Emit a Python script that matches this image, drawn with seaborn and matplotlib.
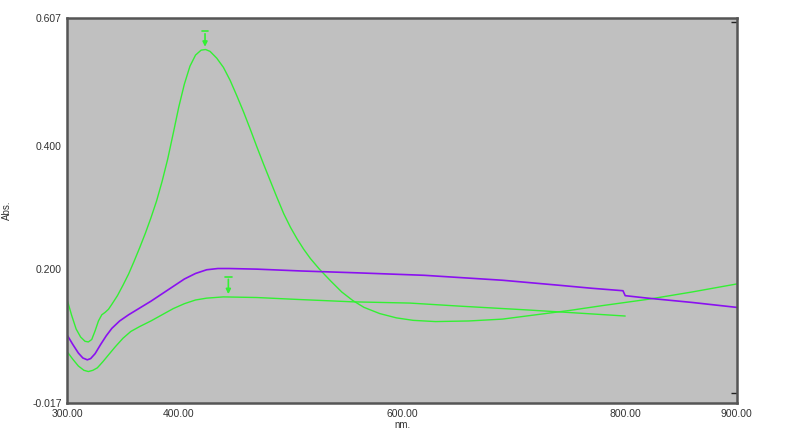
import numpy as np
import pandas as pd
import matplotlib
matplotlib.use("Agg")
import matplotlib.pyplot as plt
import seaborn as sns

# spectrum 1 (green, big band ~424 nm)
wl_a = [300, 304, 308, 312, 316, 319, 322, 325, 328, 331, 334, 337, 340, 345, 350, 355,
        360, 365, 370, 375, 380, 385, 390, 395, 400, 405, 410, 415, 420, 424, 428, 434,
        440, 446, 452, 458, 464, 470, 476, 482, 488, 494, 500, 506, 512, 518, 526, 536,
        546, 556, 566, 580, 595, 610, 630, 660, 690, 720, 750, 780, 800, 820, 860, 900]
abs_a = [0.150, 0.125, 0.103, 0.090, 0.083, 0.082, 0.086, 0.100, 0.116, 0.126, 0.130, 0.135,
         0.143, 0.157, 0.174, 0.192, 0.213, 0.235, 0.258, 0.283, 0.310, 0.342, 0.378, 0.420,
         0.463, 0.500, 0.529, 0.547, 0.555, 0.556, 0.553, 0.542, 0.527, 0.506, 0.481, 0.455,
         0.427, 0.398, 0.370, 0.343, 0.316, 0.290, 0.268, 0.249, 0.232, 0.217, 0.200, 0.181,
         0.163, 0.149, 0.138, 0.128, 0.121, 0.117, 0.115, 0.116, 0.119, 0.126, 0.133, 0.141,
         0.146, 0.151, 0.163, 0.176]

# spectrum 2 (purple)
wl_b = [300, 305, 310, 314, 318, 321, 325, 330, 335, 340, 347, 355, 365, 375, 385, 395,
        405, 415, 425, 435, 445, 470, 510, 560, 620, 690, 740, 770, 798, 800, 820, 860, 900]
abs_b = [0.093, 0.078, 0.064, 0.056, 0.053, 0.055, 0.063, 0.078, 0.092, 0.104, 0.116, 0.126,
         0.137, 0.148, 0.160, 0.172, 0.184, 0.193, 0.199, 0.201, 0.201, 0.200, 0.197, 0.194,
         0.190, 0.182, 0.174, 0.169, 0.165, 0.157, 0.153, 0.146, 0.138]

# spectrum 3 (green, lower, ends at 800 nm)
wl_c = [300, 305, 310, 315, 319, 323, 327, 332, 337, 343, 350, 357, 365, 375, 385, 395,
        405, 415, 425, 440, 470, 505, 556, 607, 652, 711, 756, 800]
abs_c = [0.066, 0.054, 0.043, 0.036, 0.034, 0.036, 0.040, 0.050, 0.061, 0.074, 0.088, 0.099,
         0.107, 0.116, 0.126, 0.136, 0.144, 0.150, 0.153, 0.155, 0.154, 0.151, 0.147, 0.145,
         0.140, 0.134, 0.129, 0.124]

# peak pick markers
peak_x = [423.5, 444.4]
peak_y = [0.556, 0.155]
peak_top = [0.586, 0.188]

x_ticks = [300, 400, 600, 800, 900]
y_ticks = [-0.017, 0.2, 0.4, 0.607]

green = "#33f033"
purple = "#8a10f0"

sns.set_style("white")
plt.rcParams['font.family'] = ['Liberation Sans', 'DejaVu Sans']

fig = plt.figure(figsize=(8, 4.34), dpi=100)
ax = fig.add_axes([0.084, 0.0714, 0.837, 0.887])
ax.set_facecolor("#c0c0c0")

df_a = pd.DataFrame({"nm": wl_a, "abs": abs_a})
df_b = pd.DataFrame({"nm": wl_b, "abs": abs_b})
df_c = pd.DataFrame({"nm": wl_c, "abs": abs_c})
sns.lineplot(data=df_a, x="nm", y="abs", color=green, lw=1.0, sort=False, estimator=None, ax=ax)
sns.lineplot(data=df_b, x="nm", y="abs", color=purple, lw=1.2, sort=False, estimator=None, ax=ax)
sns.lineplot(data=df_c, x="nm", y="abs", color=green, lw=1.0, sort=False, estimator=None, ax=ax)

for px, py, pt in zip(peak_x, peak_y, peak_top):
    ax.annotate("", xy=(px, py), xytext=(px, pt),
                arrowprops=dict(arrowstyle="-|>", color=green, lw=1.2, mutation_scale=7))
    ax.plot([px - 3, px + 3], [pt, pt], color=green, lw=1.2)

ax.set_xlim(300, 900)
ax.set_ylim(-0.017, 0.607)
ax.set_xticks(x_ticks)
ax.set_xticklabels(["%.2f" % v for v in x_ticks], fontsize=7.5, color="#333333")
ax.set_yticks(y_ticks)
ax.set_yticklabels(["%.3f" % v for v in y_ticks], fontsize=7.5, color="#333333")
ax.set_xticks([400, 600, 800], minor=True)
ax.set_yticks([0.0, 0.2, 0.4, 0.6], minor=True)
ax.tick_params(axis="both", which="major", length=0, pad=4)
ax.tick_params(axis="both", which="minor", direction="in", length=4, width=1,
               top=True, right=True, color="#222222")

for s in ax.spines.values():
    s.set_color("#555555")
    s.set_linewidth(1.8)

ax.set_xlabel("nm.", fontsize=7, labelpad=1, color="#333333")
ax.set_ylabel("Abs.", fontsize=7, color="#333333")
ax.yaxis.set_label_coords(-0.083, 0.5)

fig.savefig("out.png", dpi=100)
